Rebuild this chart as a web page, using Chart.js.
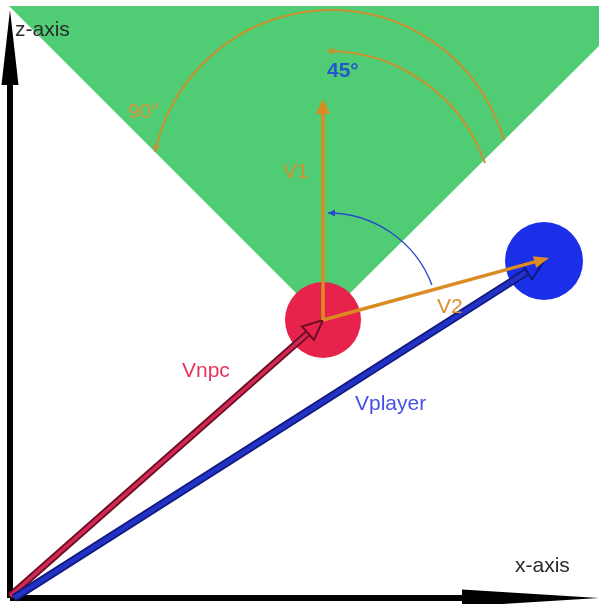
<!DOCTYPE html>
<html>
<head>
<meta charset="utf-8">
<script src="https://cdn.jsdelivr.net/npm/chart.js@4/dist/chart.umd.min.js"></script>
<style>
  html, body { margin: 0; padding: 0; background: #ffffff; }
  #wrap { position: relative; width: 599px; height: 604px; }
</style>
</head>
<body>
<div id="wrap"><canvas id="c"></canvas></div>
<script>
// ---- data (diagram units, origin at the axes corner, z upward) ----
const origin      = [0, 0];
const npcPos      = [313, 278];
const playerPos   = [534, 337];
const v1Tip       = [313, 499];
const v2Tip       = [539, 340];
const zAxisTip    = [0, 588];
const xAxisTip    = [589, 0];
const coneCorners = [[313, 278], [-1, 592], [589, 592], [589, 552], [313, 278]];
const vectorNames = ['Vnpc', 'Vplayer', 'V1', 'V2'];
const angleLabels = ['90°', '45°'];
const axisNames   = ['z-axis', 'x-axis'];

const pt = a => ({ x: a[0], y: a[1] });

// ---- annotation geometry / styles ----
const arcs = [
  { c: [321, 408], r: 180, from: 16,   to: 167.8, color: '#c8902e', width: 2,   head: true },
  { c: [317, 379.6], r: 167.4, from: 19.3, to: 90, color: '#c8902e', width: 2, head: true },
  { c: [318, 274], r: 111, from: 20.6, to: 90,   color: '#2a48cc', width: 1.4, head: true }
];
const labels = [
  { t: axisNames[0], p: [5, 562],   color: '#2a2a2a', font: '21px "Liberation Sans", Arial, sans-serif' },
  { t: axisNames[1], p: [505, 26],  color: '#2a2a2a', font: '21px "Liberation Sans", Arial, sans-serif' },
  { t: angleLabels[0], p: [118, 480], color: '#d6953c', font: '21px "Liberation Sans", Arial, sans-serif' },
  { t: angleLabels[1], p: [317, 521], color: '#2456cc', font: 'bold 21px "Liberation Sans", Arial, sans-serif' },
  { t: vectorNames[2], p: [273, 420], color: '#d88e2c', font: '21px "Liberation Sans", Arial, sans-serif' },
  { t: vectorNames[3], p: [427, 285], color: '#d88e2c', font: '21px "Liberation Sans", Arial, sans-serif' },
  { t: vectorNames[0], p: [172, 221], color: '#e8345c', font: '21px "Liberation Sans", Arial, sans-serif' },
  { t: vectorNames[1], p: [345, 188], color: '#4650e6', font: '21px "Liberation Sans", Arial, sans-serif' }
];

const hidden = { showLine: false, pointRadius: 0, borderWidth: 0 };

const datasets = [
  { label: 'cone', data: coneCorners.map(pt), showLine: true, fill: 'shape',
    backgroundColor: '#50cd74', borderWidth: 0, pointRadius: 0, order: 10 },
  { label: 'npc', data: [pt(npcPos)], showLine: false, pointRadius: 38,
    backgroundColor: '#e8234b', borderWidth: 0, order: 8 },
  { label: 'player', data: [pt(playerPos)], showLine: false, pointRadius: 39,
    backgroundColor: '#1b2fe8', borderWidth: 0, order: 8 },
  Object.assign({ label: 'zaxis', data: [pt(origin), pt(zAxisTip)], order: 1,
    arrow: { kind: 'filled', color: '#000', width: 6, headLen: 75, headW: 8.5 } }, hidden),
  Object.assign({ label: 'xaxis', data: [pt(origin), pt(xAxisTip)], order: 1,
    arrow: { kind: 'filled', color: '#000', width: 6, headLen: 137, headW: 8.5 } }, hidden),
  Object.assign({ label: vectorNames[0], data: [pt([0, 2]), pt(npcPos)], order: 1,
    arrow: { kind: 'hollow', color: '#d02a52', edge: '#6e0c26', width: 7, headLen: 20, headW: 9, headFill: '#e8234b' } }, hidden),
  Object.assign({ label: vectorNames[1], data: [pt([4, 0]), pt(playerPos)], order: 1,
    arrow: { kind: 'hollow', color: '#2232c4', edge: '#10187e', width: 8, headLen: 20, headW: 9, headFill: '#1b2fe8' } }, hidden),
  Object.assign({ label: vectorNames[3], data: [pt(npcPos), pt(v2Tip)], order: 1,
    arrow: { kind: 'filled', color: '#da8c22', width: 3.5, headLen: 15, headW: 6 } }, hidden),
  Object.assign({ label: vectorNames[2], data: [pt(npcPos), pt(v1Tip)], order: 1,
    arrow: { kind: 'filled', color: '#da8c22', width: 3.5, headLen: 15, headW: 7 } }, hidden)
];

function drawArrow(ctx, a, b, s) {
  const dx = b.x - a.x, dy = b.y - a.y;
  const L = Math.hypot(dx, dy);
  const ux = dx / L, uy = dy / L, nx = -uy, ny = ux;
  const bx = b.x - ux * s.headLen, by = b.y - uy * s.headLen;
  ctx.save();
  ctx.lineCap = 'butt';
  if (s.kind === 'filled') {
    const ex = b.x - ux * s.headLen * 0.8, ey = b.y - uy * s.headLen * 0.8;
    ctx.strokeStyle = s.color; ctx.lineWidth = s.width;
    ctx.beginPath(); ctx.moveTo(a.x, a.y); ctx.lineTo(ex, ey); ctx.stroke();
    ctx.fillStyle = s.color;
    ctx.beginPath();
    ctx.moveTo(b.x, b.y);
    ctx.lineTo(bx + nx * s.headW, by + ny * s.headW);
    ctx.lineTo(bx - nx * s.headW, by - ny * s.headW);
    ctx.closePath(); ctx.fill();
  } else {
    ctx.strokeStyle = s.edge; ctx.lineWidth = s.width;
    ctx.beginPath(); ctx.moveTo(a.x, a.y); ctx.lineTo(bx, by); ctx.stroke();
    ctx.strokeStyle = s.color; ctx.lineWidth = s.width - 3.5;
    ctx.beginPath(); ctx.moveTo(a.x, a.y); ctx.lineTo(bx, by); ctx.stroke();
    ctx.fillStyle = s.headFill; ctx.strokeStyle = s.edge; ctx.lineWidth = 2;
    ctx.lineJoin = 'miter';
    ctx.beginPath();
    ctx.moveTo(b.x, b.y);
    ctx.lineTo(bx + nx * s.headW, by + ny * s.headW);
    ctx.lineTo(bx - nx * s.headW, by - ny * s.headW);
    ctx.closePath(); ctx.fill(); ctx.stroke();
  }
  ctx.restore();
}

const overlay = {
  id: 'overlay',
  afterDatasetsDraw(chart) {
    const ctx = chart.ctx, xs = chart.scales.x, ys = chart.scales.y;
    // arcs
    arcs.forEach(ac => {
      const cx = xs.getPixelForValue(ac.c[0]), cy = ys.getPixelForValue(ac.c[1]);
      const r = xs.getPixelForValue(ac.c[0] + ac.r) - cx;
      const a1 = -ac.from * Math.PI / 180, a2 = -ac.to * Math.PI / 180;
      ctx.save();
      ctx.strokeStyle = ac.color; ctx.lineWidth = ac.width;
      ctx.beginPath(); ctx.arc(cx, cy, r, a1, a2, true); ctx.stroke();
      if (ac.head) {
        const ex = cx + r * Math.cos(a2), ey = cy + r * Math.sin(a2);
        const tx = Math.sin(a2), ty = -Math.cos(a2);
        const hl = 7, hw = 3.5;
        const bx = ex - tx * hl, by = ey - ty * hl;
        ctx.fillStyle = ac.color;
        ctx.beginPath();
        ctx.moveTo(ex, ey);
        ctx.lineTo(bx - ty * hw, by + tx * hw);
        ctx.lineTo(bx + ty * hw, by - tx * hw);
        ctx.closePath(); ctx.fill();
      }
      ctx.restore();
    });
    // arrows
    chart.data.datasets.forEach((ds, i) => {
      if (!ds.arrow) return;
      const meta = chart.getDatasetMeta(i);
      const p0 = meta.data[0], p1 = meta.data[meta.data.length - 1];
      drawArrow(ctx, { x: p0.x, y: p0.y }, { x: p1.x, y: p1.y }, ds.arrow);
    });
    // labels
    labels.forEach(l => {
      ctx.save();
      ctx.font = l.font; ctx.fillStyle = l.color;
      ctx.textAlign = 'left'; ctx.textBaseline = 'alphabetic';
      ctx.fillText(l.t, xs.getPixelForValue(l.p[0]), ys.getPixelForValue(l.p[1]));
      ctx.restore();
    });
  }
};

new Chart(document.getElementById('c'), {
  type: 'scatter',
  data: { datasets },
  options: {
    responsive: true,
    maintainAspectRatio: false,
    devicePixelRatio: 1,
    animation: false,
    events: [],
    layout: { padding: 0, autoPadding: false },
    plugins: { legend: { display: false }, tooltip: { enabled: false } },
    scales: {
      x: { type: 'linear', min: -10, max: 589, display: false },
      y: { type: 'linear', min: -6, max: 598, display: false }
    }
  },
  plugins: [overlay]
});
</script>
</body>
</html>
